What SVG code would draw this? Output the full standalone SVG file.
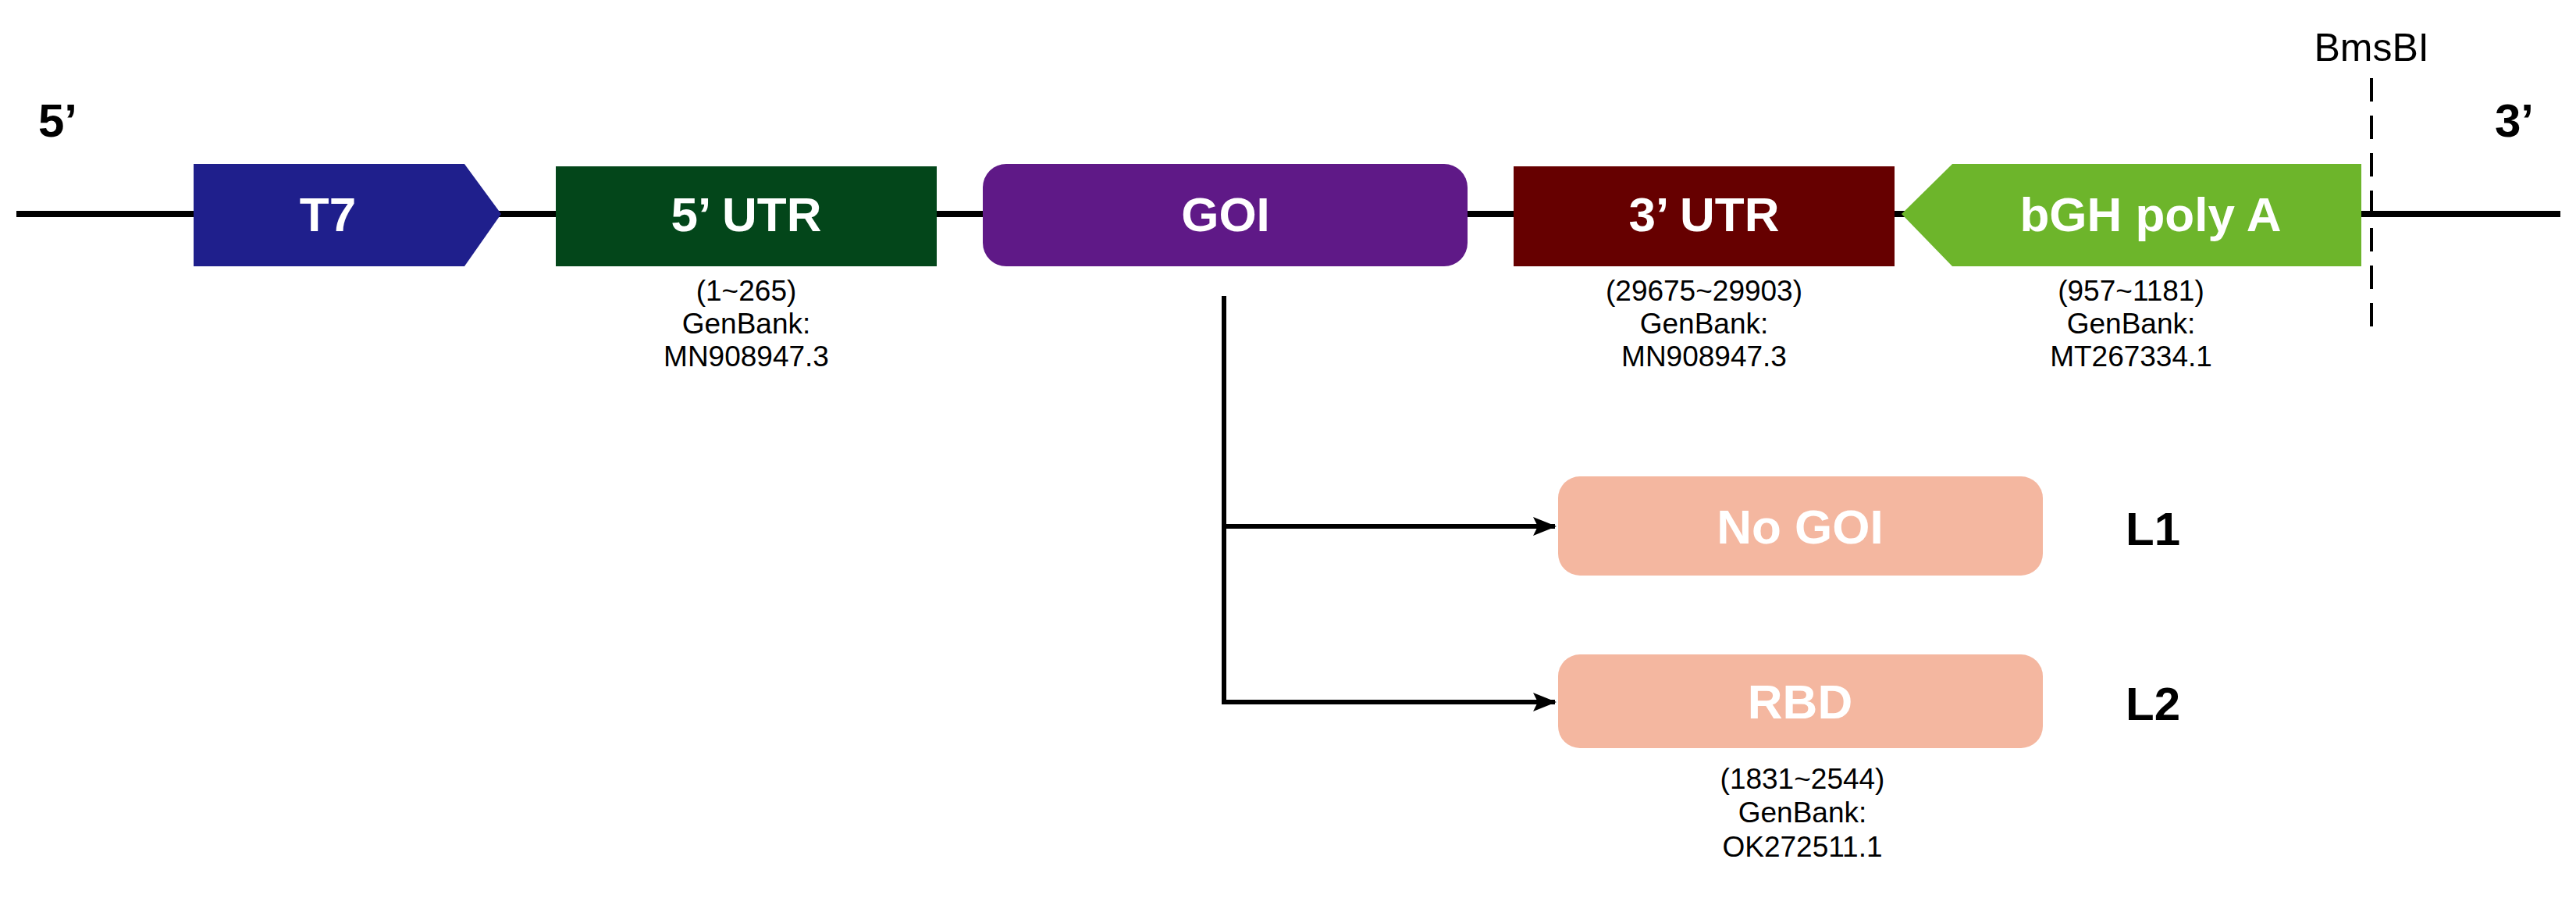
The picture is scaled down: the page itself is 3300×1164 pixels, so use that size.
<svg xmlns="http://www.w3.org/2000/svg" width="3300" height="1164" viewBox="0 0 3300 1164">
<style>
.lbl{font-family:"Liberation Sans",Arial,sans-serif;font-size:62px;fill:#fff;text-anchor:middle;font-weight:bold}
.end{font-family:"Liberation Sans",Arial,sans-serif;font-size:60px;font-weight:bold;fill:#000;text-anchor:middle}
.sm{font-family:"Liberation Sans",Arial,sans-serif;font-size:37px;fill:#000;text-anchor:middle}
</style>
<defs><marker id="ah" markerWidth="30" markerHeight="24" refX="28" refY="12" orient="auto" markerUnits="userSpaceOnUse" viewBox="0 0 30 24"><path d="M0,0 L30,12 L0,24 L6,12 z" fill="#000"/></marker></defs>
<rect width="3300" height="1164" fill="#fff"/>
<g id="backbone"><line x1="21" y1="274" x2="3280" y2="274" stroke="#000" stroke-width="8"/></g>
<text class="end" x="74" y="175">5’</text>
<text class="end" x="3221" y="175">3’</text>
<g id="bmsbi"><line x1="3038" y1="100" x2="3038" y2="420" stroke="#000" stroke-width="4" stroke-dasharray="30,18"/><text class="sm" x="3038" y="78" style="font-size:50px">BmsBI</text></g>
<g id="t7"><polygon points="248,210 595,210 642,274 595,341 248,341" fill="#1f1f8c"/><text class="lbl" x="420" y="296">T7</text></g>
<g id="utr5"><rect x="712" y="213" width="488" height="128" fill="#03461a"/><text class="lbl" x="956" y="296">5’ UTR</text>
<text class="sm" x="956" y="385">(1~265)</text><text class="sm" x="956" y="427">GenBank:</text><text class="sm" x="956" y="469">MN908947.3</text></g>
<g id="goi"><rect x="1259" y="210" width="621" height="131" rx="30" fill="#5f1987"/><text class="lbl" x="1570" y="296">GOI</text></g>
<g id="utr3"><rect x="1939" y="213" width="488" height="128" fill="#660000"/><text class="lbl" x="2183" y="296">3’ UTR</text>
<text class="sm" x="2183" y="385">(29675~29903)</text><text class="sm" x="2183" y="427">GenBank:</text><text class="sm" x="2183" y="469">MN908947.3</text></g>
<g id="bgh"><polygon points="2501,210 3025,210 3025,341 2501,341 2436,274" fill="#6db52b"/><text class="lbl" x="2755" y="296">bGH poly A</text>
<text class="sm" x="2730" y="385">(957~1181)</text><text class="sm" x="2730" y="427">GenBank:</text><text class="sm" x="2730" y="469">MT267334.1</text></g>
<g id="connectors" stroke="#000" stroke-width="6" fill="none">
<line x1="1568" y1="379" x2="1568" y2="901"/>
<line x1="1565" y1="674" x2="1992" y2="674" marker-end="url(#ah)"/>
<line x1="1565" y1="899" x2="1992" y2="899" marker-end="url(#ah)"/>
</g>
<g id="nogoi"><rect x="1996" y="610" width="621" height="127" rx="28" fill="#f4b7a0"/><text class="lbl" x="2306" y="696">No GOI</text><text class="end" x="2758" y="698">L1</text></g>
<g id="rbd"><rect x="1996" y="838" width="621" height="120" rx="28" fill="#f4b7a0"/><text class="lbl" x="2306" y="920">RBD</text><text class="end" x="2758" y="922">L2</text>
<text class="sm" x="2309" y="1010">(1831~2544)</text><text class="sm" x="2309" y="1053">GenBank:</text><text class="sm" x="2309" y="1097">OK272511.1</text></g>
</svg>
